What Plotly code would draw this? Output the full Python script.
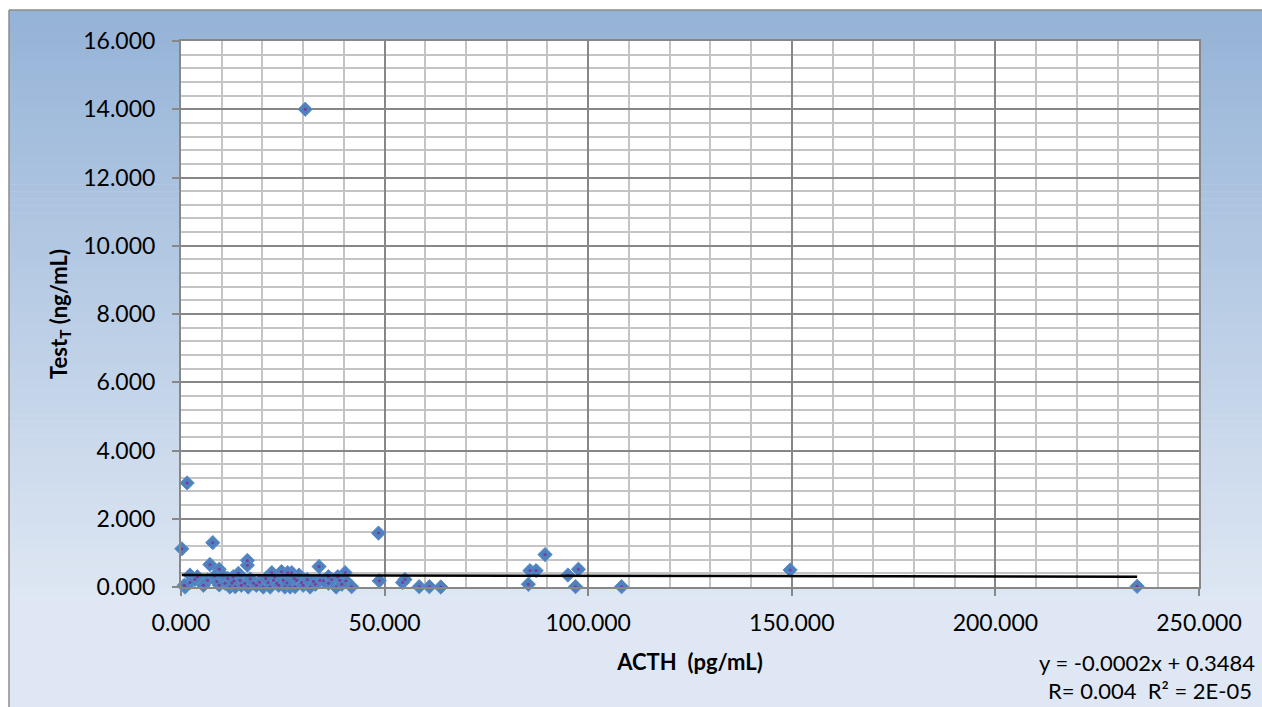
import plotly.graph_objects as go

# ACTH (pg/mL) vs testosterone (ng/mL)
acth = [0.2, 1.5, 30.5, 7.8, 7.1, 9.4, 16.3, 16.3, 33.9, 48.5, 48.7, 2.2, 1.0, 2.2,
        3.4, 6.5, 8.8, 8.3, 9.4, 10.8, 12.0, 13.3, 12.8, 14.1, 14.5, 15.7, 16.5, 17.8,
        20.2, 21.4, 22.3, 22.7, 21.9, 23.5, 24.7, 25.1, 25.5, 27.2, 26.8, 28.0, 28.4,
        29.6, 31.7, 32.5, 34.1, 36.2, 36.2, 38.1, 39.0, 40.3, 40.5, 41.9, 54.4, 55.0,
        58.5, 61.0, 63.8, 89.4, 85.7, 87.2, 85.3, 95.0, 97.6, 96.9, 108.2, 149.6, 234.8,
        11.5, 13.0, 10.2, 18.5, 19.3, 23.0, 24.0, 26.2, 27.8, 29.0, 30.0, 31.0, 33.0,
        35.0, 37.0, 38.5, 39.5, 4.0, 5.5, 14.8, 17.0, 20.8, 26.0, 12.5, 0.8]
test_t = [1.12, 3.05, 14.0, 1.30, 0.66, 0.52, 0.78, 0.64, 0.60, 1.58, 0.18, 0.35, 0.00, 0.13,
          0.22, 0.20, 0.16, 0.32, 0.06, 0.11, 0.00, 0.01, 0.30, 0.40, 0.20, 0.11, 0.00, 0.11,
          0.00, 0.13, 0.42, 0.20, 0.00, 0.11, 0.45, 0.20, 0.00, 0.42, 0.00, 0.01, 0.20,
          0.13, 0.00, 0.16, 0.20, 0.30, 0.11, 0.00, 0.20, 0.42, 0.18, 0.01, 0.13, 0.22,
          0.01, 0.01, 0.00, 0.95, 0.48, 0.48, 0.08, 0.35, 0.52, 0.01, 0.01, 0.50, 0.02,
          0.25, 0.18, 0.35, 0.05, 0.15, 0.30, 0.05, 0.42, 0.25, 0.35, 0.05, 0.22, 0.08,
          0.18, 0.22, 0.30, 0.08, 0.30, 0.05, 0.05, 0.24, 0.25, 0.12, 0.12, 0.05]

# linear trendline
SLOPE = -0.0002
INTERCEPT = 0.3484
R_TEXT = "R= 0.004  R² = 2E-05"

x_ticks = [0, 50, 100, 150, 200, 250]
y_ticks = [0, 2, 4, 6, 8, 10, 12, 14, 16]

W, H = 1262, 707
ML, MR, MT, MB = 181, 63, 41, 120
PW, PH = W - ML - MR, H - MT - MB


def px_x(p):
    return (p - ML) / PW


def px_y(p):
    return (H - MB - p) / PH


FONT = "Lato"

fig = go.Figure()

fig.add_trace(go.Scatter(
    x=acth, y=test_t, mode="markers", cliponaxis=False,
    marker=dict(symbol="diamond", size=11, color="#4F81BD",
                line=dict(color="#5B8FD0", width=1)),
    hoverinfo="x+y", showlegend=False,
))
fig.add_trace(go.Scatter(
    x=acth, y=test_t, mode="markers", cliponaxis=False,
    marker=dict(symbol="circle", size=3, color="#7A3A9E"),
    hoverinfo="skip", showlegend=False,
))

x0, x1 = min(acth), max(acth)
fig.add_trace(go.Scatter(
    x=[x0, x1], y=[SLOPE * x0 + INTERCEPT, SLOPE * x1 + INTERCEPT],
    mode="lines", line=dict(color="black", width=2.5),
    hoverinfo="skip", showlegend=False,
))

# gradient chart-area background built from horizontal bands
shapes = []
top_px, bot_px, left_px = 10, H, 9
n = 100
c_top = (149, 179, 215)
c_bot = (222, 231, 243)
band = (bot_px - top_px) / n
for i in range(n):
    t = min(1.0, i / (n - 1) / 0.85)
    c = tuple(round(a + (b - a) * t) for a, b in zip(c_top, c_bot))
    y_a = top_px + i * band
    y_b = y_a + band + 0.6
    shapes.append(dict(
        type="rect", xref="paper", yref="paper", layer="below",
        x0=px_x(left_px), x1=px_x(W + 2), y0=px_y(y_b), y1=px_y(y_a),
        fillcolor="rgb(%d,%d,%d)" % c, line=dict(width=0),
    ))
# white plot area on top of the gradient
shapes.append(dict(type="rect", xref="paper", yref="paper", layer="below",
                   x0=0, x1=1, y0=0, y1=1, fillcolor="white", line=dict(width=0)))
shapes.append(dict(type="line", xref="paper", yref="paper", layer="below",
                   x0=px_x(left_px), x1=px_x(W + 2), y0=px_y(top_px), y1=px_y(top_px),
                   line=dict(color="#8C8C8C", width=1.5)))
shapes.append(dict(type="line", xref="paper", yref="paper", layer="below",
                   x0=px_x(left_px), x1=px_x(left_px), y0=px_y(top_px), y1=px_y(H + 2),
                   line=dict(color="#8C8C8C", width=1.5)))

axis_common = dict(
    showgrid=True, gridcolor="#878787", gridwidth=2,
    showline=True, linecolor="#878787", linewidth=2, mirror=True,
    ticks="outside", ticklen=7, tickcolor="#878787", tickwidth=2,
    tickformat=".3f", zeroline=False,
    tickfont=dict(family=FONT, size=23, color="black"),
)

fig.update_layout(
    width=W, height=H,
    margin=dict(l=ML, r=MR, t=MT, b=MB),
    paper_bgcolor="white", plot_bgcolor="white",
    shapes=shapes,
    xaxis=dict(
        range=[0, 250], tickvals=x_ticks,
        minor=dict(dtick=10, tick0=0, showgrid=True, gridcolor="#C4C4C4", gridwidth=2, ticks=""),
        title=dict(text="ACTH  (pg/mL)", font=dict(family=FONT, size=22, color="black", weight="bold"),
                   standoff=20),
        ticklabelstandoff=7,
        **axis_common,
    ),
    yaxis=dict(
        range=[0, 16], tickvals=y_ticks,
        minor=dict(dtick=0.4, tick0=0, showgrid=True, gridcolor="#C4C4C4", gridwidth=2, ticks=""),
        title=dict(text="Test<sub>T</sub> (ng/mL)", font=dict(family=FONT, size=22, color="black", weight="bold"),
                   standoff=10),
        ticklabelstandoff=12,
        **axis_common,
    ),
    annotations=[
        dict(xref="paper", yref="paper", x=px_x(1257), y=px_y(662), xanchor="right", yanchor="middle",
             text="y = %.4fx + %.4f" % (SLOPE, INTERCEPT), showarrow=False,
             font=dict(family=FONT, size=22, color="black")),
        dict(xref="paper", yref="paper", x=px_x(1254), y=px_y(690), xanchor="right", yanchor="middle",
             text=R_TEXT, showarrow=False,
             font=dict(family=FONT, size=22, color="black")),
    ],
)

fig.write_html("out.html")
